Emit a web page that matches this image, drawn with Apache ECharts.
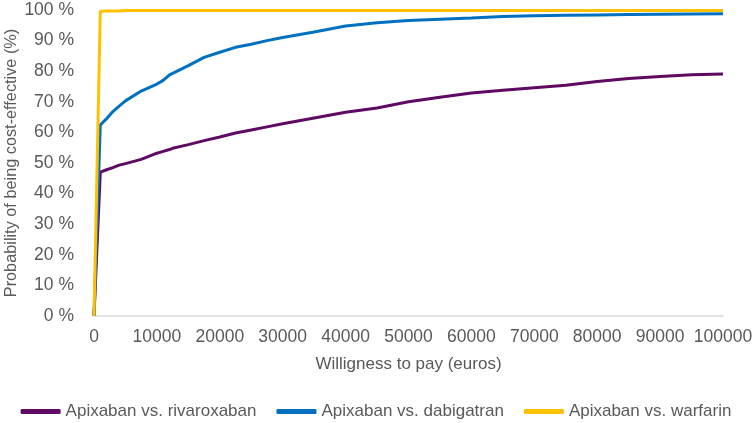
<!DOCTYPE html>
<html>
<head>
<meta charset="utf-8">
<script src="https://cdn.jsdelivr.net/npm/echarts@6/dist/echarts.min.js"></script>
<style>
  html, body { margin: 0; padding: 0; background: #fff; }
  #chart { width: 752px; height: 423px; }
</style>
</head>
<body>
<div id="chart"></div>
<script>
// willingness to pay (euros)
const wtp = [0, 1000, 2000, 3000, 4000, 5000, 7500, 10000, 11000, 12000, 12500, 15000, 17500,
  20000, 22500, 25000, 27500, 30000, 35000, 40000, 45000, 50000, 55000, 60000, 65000,
  70000, 75000, 80000, 85000, 90000, 95000, 100000];

// probability of being cost-effective (%)
const rivaroxaban = [0, 47.0, 47.8, 48.5, 49.3, 49.8, 51.2, 53.2, 53.8, 54.4, 54.8, 56.0, 57.3,
  58.5, 59.8, 60.8, 61.8, 62.8, 64.7, 66.6, 68.0, 70.0, 71.5, 72.9, 73.8,
  74.6, 75.4, 76.6, 77.6, 78.3, 78.8, 79.1];
const dabigatran = [0, 62.4, 64.5, 66.8, 68.6, 70.3, 73.5, 75.8, 77.0, 78.8, 79.3, 81.8, 84.5,
  86.2, 87.8, 88.8, 90.0, 91.0, 92.8, 94.8, 95.8, 96.6, 97.0, 97.4, 97.9,
  98.1, 98.3, 98.4, 98.5, 98.6, 98.7, 98.8];
const warfarin = [0, 99.6, 99.7, 99.7, 99.7, 99.8, 99.8, 99.8, 99.8, 99.8, 99.8, 99.8, 99.8,
  99.8, 99.8, 99.8, 99.8, 99.8, 99.8, 99.8, 99.8, 99.8, 99.8, 99.8, 99.8,
  99.8, 99.8, 99.8, 99.8, 99.8, 99.8, 99.8];

const seriesNames = ["Apixaban vs. rivaroxaban", "Apixaban vs. dabigatran", "Apixaban vs. warfarin"];
const seriesColors = ["#5E0A63", "#0070C0", "#FFC000"];
const seriesValues = [rivaroxaban, dabigatran, warfarin];

const font = "Liberation Sans, Arial, sans-serif";
const textColor = "#595959";
const fontSize = 17;

const chart = echarts.init(document.getElementById("chart"));
chart.setOption({
  animation: false,
  textStyle: { fontFamily: font },
  grid: { left: 94, right: 29, top: 10, bottom: 107, outerBoundsMode: "none", containLabel: false },
  legend: {
    top: 398,
    left: "center",
    icon: "roundRect",
    itemWidth: 40,
    itemHeight: 5,
    itemGap: 20,
    textStyle: { color: textColor, fontSize: fontSize, fontFamily: font },
    data: seriesNames,
  },
  xAxis: {
    type: "value",
    min: 0,
    max: 100000,
    interval: 10000,
    name: "Willigness to pay (euros)",
    nameLocation: "middle",
    nameGap: 40,
    nameMoveOverlap: false,
    nameTextStyle: { color: textColor, fontSize: fontSize, fontFamily: font },
    axisLine: { show: true, lineStyle: { color: "#D9D9D9", width: 1.5 } },
    axisTick: { show: false },
    splitLine: { show: false },
    axisLabel: {
      color: textColor, fontSize: 17.5, margin: 12, fontFamily: font,
      formatter: (v) => String(v),
    },
  },
  yAxis: {
    type: "value",
    min: 0,
    max: 100,
    interval: 10,
    name: "Probability of being cost-effective (%)",
    nameLocation: "middle",
    nameGap: 74,
    nameMoveOverlap: false,
    nameTextStyle: { color: textColor, fontSize: 16.3, fontFamily: font },
    axisLine: { show: false },
    axisTick: { show: false },
    splitLine: { show: false },
    axisLabel: { color: textColor, fontSize: 17.5, margin: 20, fontFamily: font, formatter: "{value} %" },
  },
  series: seriesNames.map((name, i) => ({
    name: name,
    type: "line",
    symbol: "none",
    data: wtp.map((x, j) => [x, seriesValues[i][j]]),
    lineStyle: { color: seriesColors[i], width: 3 },
    itemStyle: { color: seriesColors[i] },
  })),
});
</script>
</body>
</html>
